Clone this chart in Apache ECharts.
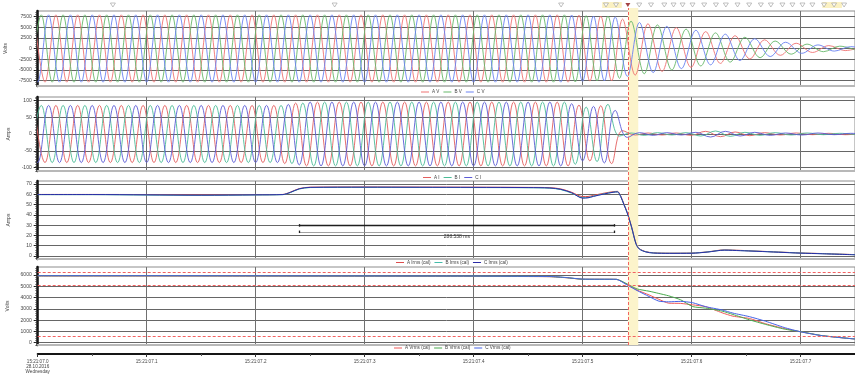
<!DOCTYPE html>
<html>
<head>
<meta charset="utf-8">
<title>15:21:07 record</title>
<script src="https://cdn.jsdelivr.net/npm/echarts@6/dist/echarts.min.js"></script>
<style>
  html, body { margin: 0; padding: 0; background: #ffffff; }
  #chart { width: 855px; height: 374px; }
</style>
</head>
<body>
<div id="chart"></div>
<script>
// ---- Record data (time in ms after 15:21:07.0, 28.10.2016) ----
const timeLabels = ['15:21:07.0', '15:21:07.1', '15:21:07.2', '15:21:07.3',
                    '15:21:07.4', '15:21:07.5', '15:21:07.6', '15:21:07.7'];
const dateLines = ['28.10.2016', 'Wednesday'];

// Instants of the waveform extrema, per phase (ms)
const extA = [-3.3, 6.7, 16.7, 26.7, 36.7, 46.7, 56.7, 66.7, 76.7, 86.7,
  96.7, 106.7, 116.7, 126.7, 136.7, 146.7, 156.7, 166.7, 176.7, 186.7,
  196.7, 206.7, 216.7, 226.7, 236.7, 246.7, 256.7, 266.7, 276.7, 286.7,
  296.7, 306.7, 316.7, 326.7, 336.7, 346.7, 356.7, 366.7, 376.7, 386.7,
  396.7, 406.7, 416.7, 426.7, 436.7, 446.7, 456.7, 466.7, 476.7, 486.7,
  496.7, 506.7, 516.7, 526.7, 536.7, 548.3, 560, 573, 586, 599.5,
  613, 626.5, 640, 653.5, 667, 681.5, 696, 711, 726, 741,
  756];
const extB = [-6.7, 3.3, 13.3, 23.3, 33.3, 43.3, 53.3, 63.3, 73.3, 83.3,
  93.3, 103.3, 113.3, 123.3, 133.3, 143.3, 153.3, 163.3, 173.3, 183.3,
  193.3, 203.3, 213.3, 223.3, 233.3, 243.3, 253.3, 263.3, 273.3, 283.3,
  293.3, 303.3, 313.3, 323.3, 333.3, 343.3, 353.3, 363.3, 373.3, 383.3,
  393.3, 403.3, 413.3, 423.3, 433.3, 443.3, 453.3, 463.3, 473.3, 483.3,
  493.3, 503.3, 513.3, 523.3, 533.9, 544.5, 556.6, 568.7, 581.9, 595,
  608.5, 622, 635.5, 649, 662.9, 676.7, 691.4, 706, 721, 736,
  751];
const extC = [-10, 0, 10, 20, 30, 40, 50, 60, 70, 80,
  90, 100, 110, 120, 130, 140, 150, 160, 170, 180,
  190, 200, 210, 220, 230, 240, 250, 260, 270, 280,
  290, 300, 310, 320, 330, 340, 350, 360, 370, 380,
  390, 400, 410, 420, 430, 440, 450, 460, 470, 480,
  490, 500, 510, 520, 530, 541.1, 552.2, 564.8, 577.3, 590.7,
  604, 617.5, 631, 644.5, 658, 672.2, 686.3, 701.2, 716, 731,
  746, 761];

// Phase voltages at those instants (V)
const voltA = [7900, -7900, 7900, -7900, 7900, -7900, 7900, -7900, 7900, -7900,
  7900, -7900, 7900, -7900, 7900, -7900, 7900, -7900, 7900, -7900,
  7900, -7900, 7900, -7900, 7900, -7900, 7900, -7900, 7900, -7900,
  7900, -7900, 7900, -7900, 7900, -7900, 7900, -7900, 7900, -7900,
  7900, -7900, 7900, -7900, 7900, -7900, 7900, -7900, 7900, -7900,
  7800, -7650, 7600, -7600, 6900, -6250, 5800, -5380, 4900, -4420,
  3960, -3500, 3000, -2460, 2040, -1600, 1230, -930, 680, -490,
  340];
const voltB = [-7900, 7900, -7900, 7900, -7900, 7900, -7900, 7900, -7900, 7900,
  -7900, 7900, -7900, 7900, -7900, 7900, -7900, 7900, -7900, 7900,
  -7900, 7900, -7900, 7900, -7900, 7900, -7900, 7900, -7900, 7900,
  -7900, 7900, -7900, 7900, -7900, 7900, -7900, 7900, -7900, 7900,
  -7900, 7900, -7900, 7900, -7900, 7900, -7900, 7900, -7900, 7900,
  -7850, 7700, -7600, 7600, -7000, 6420, -5930, 5540, -5040, 4550,
  -4100, 3670, -3180, 2640, -2160, 1750, -1330, 1030, -750, 550,
  -390];
const voltC = [7900, -7900, 7900, -7900, 7900, -7900, 7900, -7900, 7900, -7900,
  7900, -7900, 7900, -7900, 7900, -7900, 7900, -7900, 7900, -7900,
  7900, -7900, 7900, -7900, 7900, -7900, 7900, -7900, 7900, -7900,
  7900, -7900, 7900, -7900, 7900, -7900, 7900, -7900, 7900, -7900,
  7900, -7900, 7900, -7900, 7900, -7900, 7900, -7900, 7900, -7900,
  7850, -7700, 7600, -7600, 7400, -6550, 6100, -5650, 5200, -4720,
  4280, -3830, 3360, -2820, 2310, -1890, 1470, -1130, 840, -610,
  440, -310];

// Phase currents at those instants (A)
const currA = [85, -85, 85, -85, 85, -85, 85, -85, 85, -85,
  85, -85, 85, -85, 85, -85, 85, -85, 85, -85,
  85, -85, 85, -88, 92, -95, 95, -95, 95, -95,
  95, -95, 95, -95, 95, -95, 95, -95, 95, -95,
  95, -95, 95, -95, 95, -95, 95, -95, 95, -95,
  86, -80, 84, -88, 10, -3, 3, -3, 3, -4,
  8, -8, 6, -5, 4, -3, 3, -2, 2, -2,
  1];
const currB = [-85, 85, -85, 85, -85, 85, -85, 85, -85, 85,
  -85, 85, -85, 85, -85, 85, -85, 85, -85, 85,
  -85, 85, -85, 85, -88, 92, -95, 95, -95, 95,
  -95, 95, -95, 95, -95, 95, -95, 95, -95, 95,
  -95, 95, -95, 95, -95, 95, -95, 95, -95, 95,
  -90, 80, -82, 88, -6, 3, -4, 4, -3, 4,
  -6, 9, -7, 5, -4, 4, -3, 3, -2, 2,
  -2];
const currC = [85, -85, 85, -85, 85, -85, 85, -85, 85, -85,
  85, -85, 85, -85, 85, -85, 85, -85, 85, -85,
  85, -85, 85, -85, 88, -92, 95, -95, 95, -95,
  95, -95, 95, -95, 95, -95, 95, -95, 95, -95,
  95, -95, 95, -95, 95, -95, 95, -95, 95, -95,
  90, -80, 82, -86, 70, -10, 4, -4, 4, -3,
  5, -9, 8, -6, 5, -4, 3, -3, 3, -2,
  2, -2];

// Calculated RMS currents (A)
const irmsT = [0, 50, 100, 150, 200, 225, 232, 240, 250, 300,
  350, 400, 450, 470, 480, 490, 500, 505, 510, 520,
  528, 532, 535, 538, 541, 545, 549, 552, 558, 565,
  580, 600, 615, 630, 645, 660, 680, 700, 720, 750];
const irmsA = [59.9, 59.9, 59.8, 59.6, 59.7, 59.9, 62.2, 65.6, 67.0, 67.2,
  67.1, 67.0, 66.8, 66.5, 65.3, 62.0, 57.8, 57.9, 59.0, 61.2,
  62.6, 62.9, 58.5, 50.5, 42.5, 28.5, 12.5, 7.2, 4.2, 3.1,
  2.7, 2.8, 4.0, 5.9, 5.4, 4.7, 3.8, 2.9, 2.3, 1.3];
const irmsB = [59.7, 59.7, 59.3, 59.0, 59.4, 59.7, 61.8, 65.2, 66.6, 66.8,
  66.7, 66.6, 66.4, 66.0, 64.6, 61.2, 56.8, 56.9, 58.2, 60.6,
  62.1, 62.5, 58.0, 50.0, 42.0, 28.0, 12.0, 6.9, 4.0, 2.9,
  2.6, 2.7, 3.9, 5.7, 5.2, 4.6, 3.7, 2.8, 2.2, 1.2];
const irmsC = [59.8, 59.8, 59.5, 59.2, 59.5, 59.8, 62.0, 65.4, 66.8, 67.0,
  66.9, 66.8, 66.6, 66.2, 64.9, 61.6, 56.3, 56.6, 58.0, 60.4,
  62.0, 62.4, 57.8, 49.8, 41.8, 27.8, 11.8, 6.8, 3.9, 2.8,
  2.5, 2.6, 3.8, 5.6, 5.1, 4.5, 3.6, 2.7, 2.1, 1.1];

// Calculated RMS voltages (V)
const vrmsT = [0, 100, 200, 300, 400, 470, 485, 500, 531, 541,
  550, 561, 570, 579, 590, 601, 613, 628, 638, 653,
  668, 685, 700, 720, 750];
const vrmsA = [5900, 5900, 5890, 5880, 5870, 5840, 5750, 5620, 5610, 5150,
  4660, 4230, 3840, 3500, 3480, 3350, 3190, 2650, 2350, 2150,
  1680, 1260, 970, 620, 330];
const vrmsB = [5920, 5920, 5910, 5900, 5890, 5850, 5760, 5620, 5610, 5200,
  4760, 4560, 4360, 4150, 3800, 3200, 3060, 2800, 2500, 2030,
  1620, 1210, 980, 630, 330];
const vrmsC = [5930, 5930, 5920, 5910, 5900, 5860, 5770, 5630, 5610, 5100,
  4620, 4090, 3680, 3620, 3660, 3540, 3190, 2900, 2620, 2310,
  1900, 1350, 970, 620, 330];
const vrmsLimits = [6230, 5110, 530];

// Axis ticks
const voltTicks = [-7500, -5000, -2500, 0, 2500, 5000, 7500];
const currTicks = [-100, -50, 0, 50, 100];
const irmsTicks = [0, 10, 20, 30, 40, 50, 60, 70];
const vrmsTicks = [0, 1000, 2000, 3000, 4000, 5000, 6000];

// Events
const eventTimes = [69, 272.5, 480.3, 521.5, 530.7, 552, 562.8, 575, 583.5, 591.8,
  600.9, 611.6, 622.4, 631.5, 642.2, 652.9, 663.6, 672.8, 683.4, 692.6,
  701.8, 710.9, 721.6, 730.8, 740];
const eventBands = [[518, 536], [720, 738]];
const tripTime = 541.6;
const tripBand = [541.6, 551.1];
const measureSpan = [240.4, 528.938];

// ---- Chart ----
const FONT = 'Liberation Sans';
const T_MIN = 0, T_MAX = 750;
const pairs = (xs, ys) => xs.map((x, i) => [x, ys[i]]);
const stepsWithin = (min, max, step) => {
  const out = [];
  for (let v = Math.ceil(min / step) * step; v <= max + 1e-9; v += step) out.push(Math.round(v * 1000) / 1000);
  return out;
};

const boxes = [
  { top: 2, height: 6 },     // event markers
  { top: 11, height: 75 },   // voltages
  { top: 97, height: 74 },   // currents
  { top: 181, height: 78 },  // rms currents
  { top: 267, height: 78 },  // rms voltages
  { top: 8, height: 337 }    // trip band overlay
];
const grid = boxes.map((b, i) => ({
  left: 37.7, right: 0, top: b.top, height: b.height,
  show: i >= 1 && i <= 4, borderColor: '#8c8c8c', borderWidth: 1,
  backgroundColor: 'transparent', outerBoundsMode: 'none'
}));

const vGrid = { show: true, lineStyle: { color: '#707070', width: 1 } };
const timeAxis = (gridIndex, extra) => Object.assign({
  type: 'value', gridIndex, position: 'bottom', min: T_MIN, max: T_MAX, interval: 100,
  axisLine: { show: false }, axisTick: { show: false }, axisLabel: { show: false },
  splitLine: { show: false }
}, extra);
const panelTimeAxis = gi => timeAxis(gi, {
  splitLine: vGrid,
  axisLine: { show: true, onZero: false, lineStyle: { color: '#b8b8b8', width: 2 } }
});

const xAxis = [
  timeAxis(0, { show: false }),
  panelTimeAxis(1),
  panelTimeAxis(2),
  panelTimeAxis(3),
  panelTimeAxis(4),
  timeAxis(4, {
    offset: 9,
    axisLine: { show: true, onZero: false, lineStyle: { color: '#151515', width: 2 } },
    axisTick: { show: true, length: 3, lineStyle: { color: '#333', width: 1 } },
    minorTick: { show: true, splitNumber: 2, length: 2, lineStyle: { color: '#555', width: 1 } },
    axisLabel: {
      show: true, fontSize: 4.6, color: '#444', fontFamily: FONT, margin: 5, lineHeight: 5.2,
      showMaxLabel: false,
      formatter: v => {
        const i = Math.round(v / 100);
        const lab = timeLabels[i] || '';
        return i === 0 ? [lab].concat(dateLines).join('\n') : lab;
      }
    }
  }),
  timeAxis(5, { show: false })
];

const valueAxis = (gridIndex, min, max, ticks, name) => ({
  type: 'value', gridIndex, position: 'left', min, max, name,
  nameLocation: 'middle', nameGap: 27, nameRotate: 90,
  nameTextStyle: { fontSize: 5, color: '#444', fontFamily: FONT },
  axisLine: { show: true, onZero: false, lineStyle: { color: '#111', width: 2.5 } },
  axisTick: { show: true, length: 4, customValues: ticks, lineStyle: { color: '#222', width: 1 } },
  axisLabel: { show: true, customValues: ticks, fontSize: 5, color: '#444', fontFamily: FONT, margin: 6,
               formatter: v => String(v) },
  splitLine: { show: true, lineStyle: { color: '#666666', width: 1 } }
});
const minorAxis = (gridIndex, min, max, step) => ({
  type: 'value', gridIndex, position: 'left', offset: 0, min, max,
  axisLine: { show: false }, axisLabel: { show: false }, splitLine: { show: false },
  axisTick: { show: true, length: 2.5, customValues: stepsWithin(min, max, step),
              lineStyle: { color: '#333', width: 0.6 } }
});

const yAxis = [
  { type: 'value', gridIndex: 0, min: 0, max: 1, show: false },
  valueAxis(1, -8800, 8800, voltTicks, 'Volts'),
  minorAxis(1, -8800, 8800, 500),
  valueAxis(2, -110, 110, currTicks, 'Amps'),
  minorAxis(2, -110, 110, 5),
  valueAxis(3, -3, 73, irmsTicks, 'Amps'),
  minorAxis(3, -3, 73, 2),
  valueAxis(4, -200, 6700, vrmsTicks, 'Volts'),
  minorAxis(4, -200, 6700, 200),
  { type: 'value', gridIndex: 5, min: 0, max: 1, show: false }
];

const line = (name, color, xi, yi, data, smooth, width) => ({
  name, type: 'line', xAxisIndex: xi, yAxisIndex: yi, data,
  showSymbol: false, symbol: 'none', smooth, silent: true, z: 3,
  lineStyle: { color, width: width || 1 }, itemStyle: { color }
});

const C = {
  vA: '#ef7373', vB: '#67b86a', vC: '#6a82f2',
  iA: '#e35f5f', iB: '#4cbc97', iC: '#5c5cd6',
  rA: '#dc4c4c', rB: '#44bcaa', rC: '#2b2ba6',
  uA: '#f05858', uB: '#4aab4e', uC: '#4562e6'
};

const measureY = 30, measureY2 = 23.5;
const measureText = (measureSpan[1] - measureSpan[0]).toFixed(3) + ' ms';

const series = [
  // trip band and trip line across all panels
  {
    type: 'line', xAxisIndex: 6, yAxisIndex: 9, data: [[tripTime, 0.5]], symbol: 'none',
    lineStyle: { width: 0 }, silent: true, z: -1,
    markArea: { silent: true, itemStyle: { color: '#fcf4cb' },
      data: [[{ xAxis: tripBand[0] }, { xAxis: tripBand[1] }]] },
    markLine: { silent: true, symbol: 'none', label: { show: false },
      lineStyle: { color: '#f26262', type: [3, 2], width: 1 },
      data: [{ xAxis: tripTime }] }
  },
  // event markers
  {
    type: 'scatter', xAxisIndex: 0, yAxisIndex: 0, silent: true,
    data: eventTimes.map(t => [t, 0.5]),
    symbol: 'triangle', symbolRotate: 180, symbolSize: [5, 4],
    itemStyle: { color: '#ffffff', borderColor: '#a0a0a0', borderWidth: 0.8 },
    markArea: { silent: true, itemStyle: { color: '#fbf1c2' },
      data: eventBands.map(b => [{ xAxis: b[0] }, { xAxis: b[1] }]) }
  },
  {
    type: 'scatter', xAxisIndex: 0, yAxisIndex: 0, silent: true,
    data: [[tripTime, 0.5]], symbol: 'triangle', symbolRotate: 180, symbolSize: [5, 4],
    itemStyle: { color: '#8c1414' }
  },
  // phase voltages
  line('A V', C.vA, 1, 1, pairs(extA, voltA), 0.35, 0.9),
  line('B V', C.vB, 1, 1, pairs(extB, voltB), 0.35, 0.9),
  line('C V', C.vC, 1, 1, pairs(extC, voltC), 0.35, 0.9),
  // phase currents
  line('A I', C.iA, 2, 3, pairs(extA, currA), 0.42, 0.9),
  line('B I', C.iB, 2, 3, pairs(extB, currB), 0.42, 0.9),
  line('C I', C.iC, 2, 3, pairs(extC, currC), 0.42, 0.9),
  // rms currents
  line('A Irms (cal)', C.rA, 3, 5, pairs(irmsT, irmsA), 0.3),
  line('B Irms (cal)', C.rB, 3, 5, pairs(irmsT, irmsB), 0.3),
  line('C Irms (cal)', C.rC, 3, 5, pairs(irmsT, irmsC), 0.3),
  // measured interval
  {
    type: 'line', xAxisIndex: 3, yAxisIndex: 5, data: [[measureSpan[0], measureY]], symbol: 'none',
    lineStyle: { width: 0 }, silent: true, z: 4,
    markLine: {
      silent: true, symbol: 'none', label: { show: false },
      lineStyle: { color: '#1e1e1e', width: 1.3, type: 'solid' },
      data: [
        [{ coord: [measureSpan[0], measureY] }, { coord: [measureSpan[1], measureY] }],
        [{ coord: [measureSpan[0], measureY2], lineStyle: { color: '#8a8a8a', width: 0.8 },
           label: { show: true, formatter: measureText, position: 'insideMiddleBottom', distance: 2,
                    fontSize: 5, color: '#333', fontFamily: FONT } },
         { coord: [measureSpan[1], measureY2] }],
        [{ coord: [measureSpan[0], measureY + 1] }, { coord: [measureSpan[0], measureY - 1.5] }],
        [{ coord: [measureSpan[1], measureY + 1] }, { coord: [measureSpan[1], measureY - 1.5] }],
        [{ coord: [measureSpan[0], measureY2 + 1.2] }, { coord: [measureSpan[0], measureY2 - 1.2] }],
        [{ coord: [measureSpan[1], measureY2 + 1.2] }, { coord: [measureSpan[1], measureY2 - 1.2] }]
      ]
    }
  },
  // rms voltages with limit lines
  Object.assign(line('A Vrms (cal)', C.uA, 4, 7, pairs(vrmsT, vrmsA), 0.2), {
    markLine: { silent: true, symbol: 'none', label: { show: false },
      lineStyle: { color: '#f26262', type: [3, 2], width: 1 },
      data: vrmsLimits.map(v => ({ yAxis: v })) }
  }),
  line('B Vrms (cal)', C.uB, 4, 7, pairs(vrmsT, vrmsB), 0.2),
  line('C Vrms (cal)', C.uC, 4, 7, pairs(vrmsT, vrmsC), 0.2)
];

const legendBase = {
  orient: 'horizontal', icon: 'rect', itemWidth: 8, itemHeight: 1, itemGap: 4, padding: 0,
  selectedMode: false,
  textStyle: { fontSize: 4.6, color: '#444', fontFamily: FONT, padding: [0, 0, 0, -2] }
};
const legend = [
  Object.assign({}, legendBase, { data: ['A V', 'B V', 'C V'], left: 421, top: 89.5 }),
  Object.assign({}, legendBase, { data: ['A I', 'B I', 'C I'], left: 423, top: 175 }),
  Object.assign({}, legendBase, { data: ['A Irms (cal)', 'B Irms (cal)', 'C Irms (cal)'], left: 396, top: 260 }),
  Object.assign({}, legendBase, { data: ['A Vrms (cal)', 'B Vrms (cal)', 'C Vrms (cal)'], left: 394, top: 345.5 })
];

const chart = echarts.init(document.getElementById('chart'), null, { renderer: 'canvas' });
chart.setOption({
  animation: false,
  backgroundColor: '#ffffff',
  textStyle: { fontFamily: FONT },
  grid, xAxis, yAxis, legend, series
});
</script>
</body>
</html>
